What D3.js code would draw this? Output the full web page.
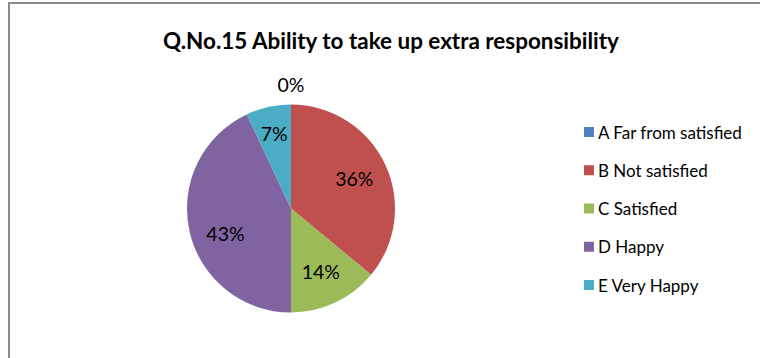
<!DOCTYPE html>
<html><head><meta charset="utf-8">
<script src="https://cdn.jsdelivr.net/npm/d3@7"></script>
<style>html,body{margin:0;padding:0;background:#fff;}svg{display:block;}</style>
</head><body>
<svg id="c" width="760" height="358"></svg>
<script>
const categories = ["A Far from satisfied", "B Not satisfied", "C Satisfied", "D Happy", "E Very Happy"];
const values = [0, 36, 14, 43, 7];
const colors = ["#4F81BD", "#C0504D", "#9BBB59", "#8064A2", "#4BACC6"];
const title = "Q.No.15 Ability to take up extra responsibility";

const svg = d3.select("#c");
const font = "Lato, 'Open Sans', sans-serif";

// chart border
svg.append("rect").attr("x", 9).attr("y", 3).attr("width", 800).attr("height", 400)
  .attr("fill", "#fff").attr("stroke", "#8c8c8c").attr("stroke-width", 2);

// title
const t = svg.append("text").attr("x", 391).attr("y", 49).attr("text-anchor", "middle")
  .attr("font-family", font).attr("font-weight", "bold").attr("font-size", 20)
  .attr("fill", "#000").text(title);
const tw = t.node().getComputedTextLength();
t.attr("font-size", 20 * 456 / tw);

const cx = 291, cy = 208.5, r = 104;
const total = d3.sum(values);
const pie = d3.pie().sort(null).value(d => d)(values);
const arc = d3.arc().innerRadius(0).outerRadius(r);
const g = svg.append("g").attr("transform", `translate(${cx},${cy})`);
g.selectAll("path").data(pie).join("path")
  .attr("d", arc).attr("fill", (d, i) => colors[i]);

// labels (best-fit style placement)
const pct = d3.format(".0%");
g.selectAll("text.lbl").data(pie).join("text").attr("class", "lbl")
  .attr("font-family", font).attr("font-size", 19.5).attr("fill", "#000")
  .attr("text-anchor", "middle").attr("dominant-baseline", "central")
  .attr("transform", d => {
    const span = d.endAngle - d.startAngle;
    let lr = span === 0 ? r + 20 : (span < 0.5 ? 77 : 70);
    let a = (d.startAngle + d.endAngle) / 2;
    if (span > Math.PI * 0.8) a -= 0.14; // large slice label sits a bit lower
    return `translate(${lr * Math.sin(a)},${-lr * Math.cos(a)})`;
  })
  .text(d => pct(d.data / total));

// legend
const lg = svg.append("g");
const ly = d3.scalePoint().domain(categories).range([132, 285]);
const items = lg.selectAll("g").data(categories).join("g")
  .attr("transform", d => `translate(584,${ly(d)})`);
items.append("rect").attr("x", 0).attr("y", -5).attr("width", 10).attr("height", 10)
  .attr("fill", (d, i) => colors[i]);
items.append("text").attr("x", 14).attr("y", 0).attr("dominant-baseline", "central")
  .attr("font-family", font).attr("font-size", 17).attr("fill", "#000").text(d => d);
</script>
</body></html>
